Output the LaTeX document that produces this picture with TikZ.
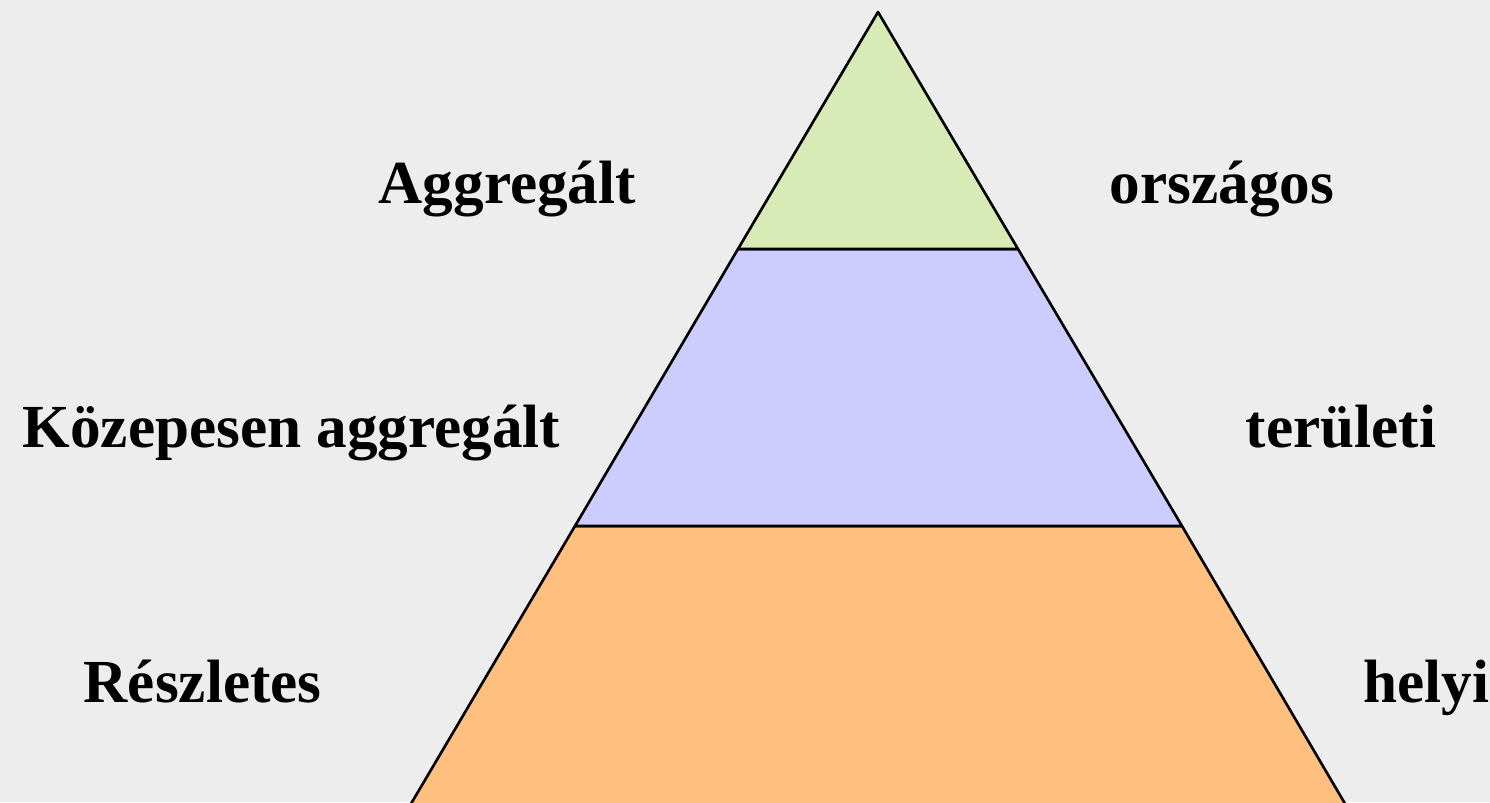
\documentclass[tikz,border=0pt]{standalone}
\usepackage{fontspec}
\setmainfont{Liberation Serif}
\usepackage{tikz}
\usetikzlibrary{positioning}
\definecolor{fondgris}{RGB}{237, 237, 237}
\definecolor{vertpale}{RGB}{216, 234, 181}
\definecolor{lavande}{RGB}{204, 204, 255}
\definecolor{orangepale}{RGB}{255, 191, 127}

\begin{document}
\begin{tikzpicture}[
    x=0.01cm, y=-0.01cm,
    couche/.style={draw=black, line width=0.75pt, line join=round},
    niveau/.style={font=\fontsize{17.4}{20}\selectfont\bfseries,
                   anchor=base west, inner sep=0pt}
]

% --- Fond ---
\useasboundingbox (0,0) rectangle (1490,802);
\clip (0,0) rectangle (1490,802);
\fill[fondgris] (0,0) rectangle (1490,802);

% ============================================================
%  PYRAMIDE  (trois couches, base coupee par le bord)
% ============================================================
\filldraw[couche, fill=orangepale]
    (575,526) -- (1182,526) -- (1354.6,820) -- (401.4,820) -- cycle;
\filldraw[couche, fill=lavande]
    (738,249) -- (1018,249) -- (1182,526) -- (575,526) -- cycle;
\filldraw[couche, fill=vertpale]
    (878,12) -- (1018,249) -- (738,249) -- cycle;

% ============================================================
%  ETIQUETTES  (gauche / droite)
% ============================================================
\node[niveau] (aggr)  at (378,203)  {Aggregált};
\node[niveau] (orsz)  at (1109,203) {országos};
\node[niveau] (kozep) at (22,447)   {Közepesen aggregált};
\node[niveau] (teru)  at (1245,447) {területi};
\node[niveau] (reszl) at (83,702)   {Részletes};
\node[niveau] (helyi) at (1363,702) {helyi};

\end{tikzpicture}
\end{document}
